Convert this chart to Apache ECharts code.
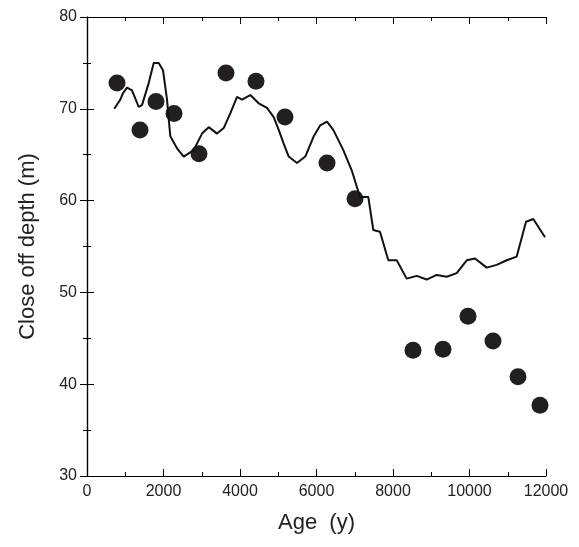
<!DOCTYPE html>
<html><head><meta charset="utf-8">
<script src="https://cdn.jsdelivr.net/npm/echarts@6/dist/echarts.min.js"></script>
<style>html,body{margin:0;background:#fff}#main{width:579px;height:547px}</style>
</head><body><div id="main"></div>
<script>
var pointAges = [784, 1386, 1804, 2275, 2928, 3634, 4418, 5176, 6275, 7007, 8523, 9307, 9961, 10614, 11268, 11843];
var pointDepths = [72.8, 67.7, 70.8, 69.5, 65.1, 73.9, 73.0, 69.1, 64.1, 60.2, 43.7, 43.8, 47.4, 44.7, 40.8, 37.7];
var lineAges = [714, 871, 941, 1046, 1176, 1352, 1438, 1613, 1744, 1875, 1987, 2092, 2178, 2353, 2528, 2789, 3007, 3182, 3399, 3574, 3746, 3922, 4052, 4269, 4489, 4706, 4881, 5012, 5142, 5273, 5490, 5707, 5927, 6099, 6275, 6439, 6701, 6920, 7137, 7354, 7485, 7660, 7877, 8097, 8358, 8620, 8881, 9142, 9404, 9665, 9927, 10144, 10450, 10711, 10973, 11234, 11477, 11668, 11974];
var lineDepths = [70.0, 71.0, 71.7, 72.3, 72.0, 70.2, 70.4, 72.8, 75.0, 75.0, 74.2, 71.0, 67.0, 65.7, 64.8, 65.5, 67.3, 68.0, 67.3, 67.9, 69.5, 71.3, 71.0, 71.5, 70.6, 70.1, 69.1, 67.7, 66.2, 64.8, 64.1, 64.8, 67.0, 68.2, 68.6, 67.7, 65.5, 63.3, 60.4, 60.4, 56.8, 56.6, 53.5, 53.5, 51.5, 51.8, 51.4, 51.9, 51.7, 52.1, 53.5, 53.7, 52.7, 53.0, 53.5, 53.9, 57.7, 58.0, 56.0];

var myChart = echarts.init(document.getElementById('main'));
var axLine = {show: true, lineStyle: {color: '#000', width: 1.2}};
var ticks = {show: true, inside: true, length: 7, lineStyle: {color: '#000'}};
var minor = {show: true, splitNumber: 2, length: 4, lineStyle: {color: '#000'}};
var font = 'Liberation Sans';
function zip(a, b) { return a.map(function (v, i) { return [v, b[i]]; }); }
var option = {
    animation: false,
    grid: {left: 87, right: 33, top: 17, bottom: 71},
    xAxis: [{
        type: 'value', min: 0, max: 12000, interval: 2000,
        name: 'Age  (y)', nameLocation: 'middle', nameGap: 36,
        nameTextStyle: {fontSize: 22, color: '#222', fontFamily: font},
        axisLine: axLine, axisTick: ticks, minorTick: minor, splitLine: {show: false},
        axisLabel: {fontSize: 16, color: '#222', fontFamily: font, margin: 8,
            formatter: function (v) { return String(v); }}
    }, {
        type: 'value', min: 0, max: 12000, interval: 2000, position: 'top',
        axisLine: axLine, axisTick: ticks, minorTick: minor, splitLine: {show: false},
        axisLabel: {show: false}
    }],
    yAxis: [{
        type: 'value', min: 30, max: 80, interval: 10,
        name: 'Close off depth (m)', nameLocation: 'middle', nameGap: 48,
        nameTextStyle: {fontSize: 22, color: '#222', fontFamily: font},
        axisLine: axLine, axisTick: ticks, minorTick: minor, splitLine: {show: false},
        axisLabel: {fontSize: 16, color: '#222', fontFamily: font, margin: 10}
    }, {
        type: 'value', min: 30, max: 80, interval: 10, position: 'right',
        axisLine: axLine, axisTick: ticks, minorTick: minor, splitLine: {show: false},
        axisLabel: {show: false}
    }],
    series: [{
        type: 'line', data: zip(lineAges, lineDepths), showSymbol: false,
        lineStyle: {color: '#111', width: 2}
    }, {
        type: 'scatter', data: zip(pointAges, pointDepths), symbolSize: 17,
        itemStyle: {color: '#231f20', opacity: 1}
    }]
};
myChart.setOption(option);
</script></body></html>
